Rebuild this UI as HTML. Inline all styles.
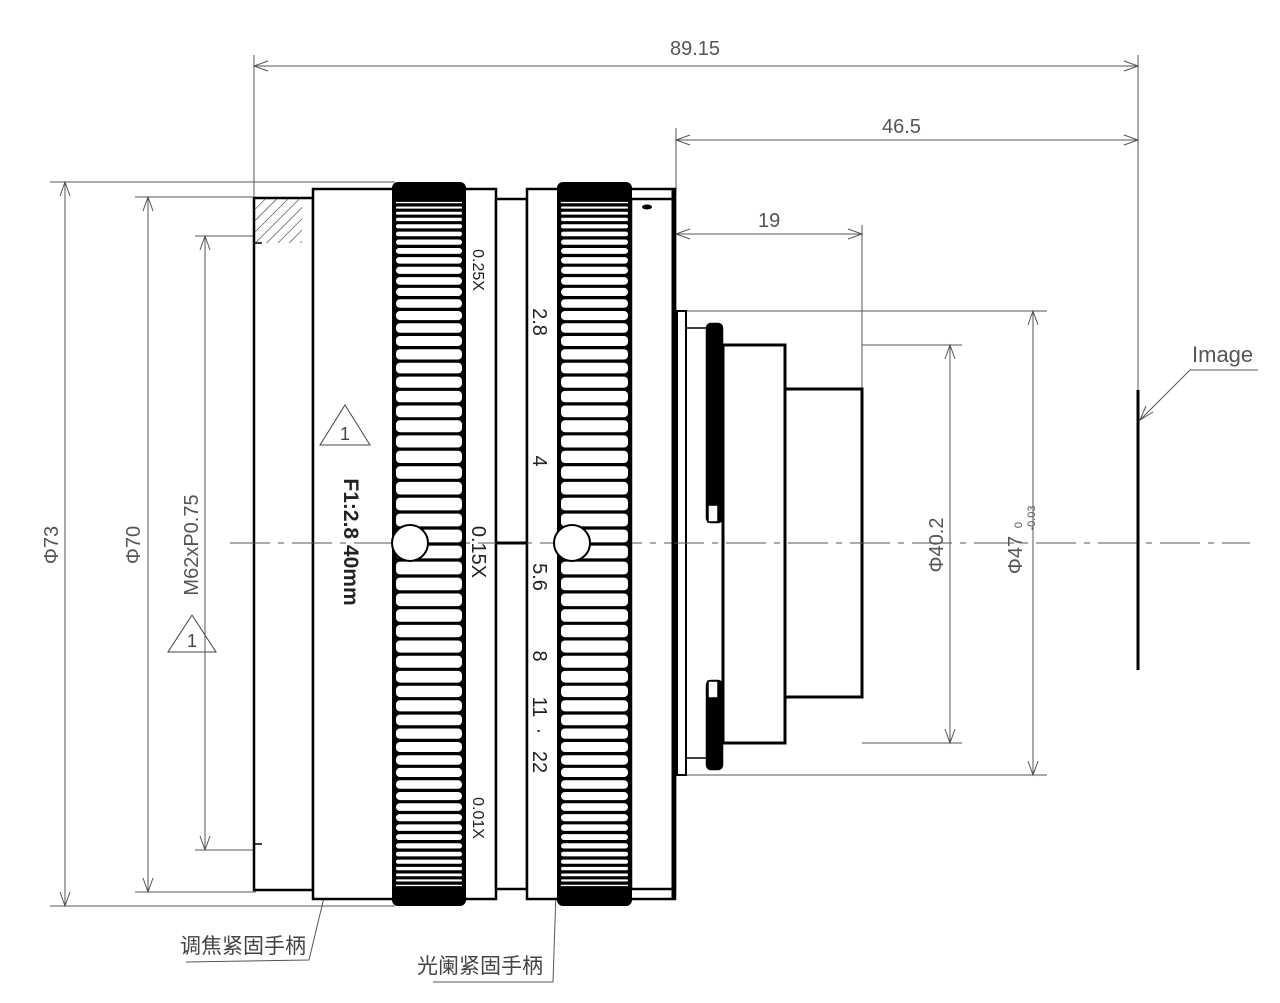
<!DOCTYPE html>
<html><head><meta charset="utf-8"><style>
html,body{margin:0;padding:0;background:#fff}
svg{display:block}
text{font-family:"Liberation Sans","Noto Sans CJK SC",sans-serif}
</style></head><body>
<svg id="s" width="1280" height="1003" viewBox="0 0 1280 1003" xmlns="http://www.w3.org/2000/svg">
<defs>
<pattern id="h" width="8" height="8" patternUnits="userSpaceOnUse" patternTransform="rotate(45)"><line x1="0" y1="0" x2="0" y2="8" stroke="#333" stroke-width="1.2"/></pattern>
</defs>
<g fill="none" stroke="#555" stroke-width="1">
<line x1="254" y1="55" x2="254" y2="196"/>
<line x1="1138" y1="55" x2="1138" y2="420"/>
<line x1="254" y1="66" x2="1138" y2="66"/>
<path d="M268 61 L254 66 L268 71 M1124 61 L1138 66 L1124 71"/>
<line x1="676" y1="128" x2="676" y2="196"/>
<line x1="676" y1="140" x2="1138" y2="140"/>
<path d="M690 135 L676 140 L690 145 M1124 135 L1138 140 L1124 145"/>
<line x1="862" y1="225" x2="862" y2="389"/>
<line x1="676" y1="234" x2="862" y2="234"/>
<path d="M690 229 L676 234 L690 239 M848 229 L862 234 L848 239"/>
<line x1="50" y1="182" x2="395" y2="182"/>
<line x1="50" y1="906" x2="395" y2="906"/>
<line x1="65" y1="182" x2="65" y2="906"/>
<path d="M60 196 L65 182 L70 196 M60 892 L65 906 L70 892"/>
<line x1="135" y1="197" x2="256" y2="197"/>
<line x1="135" y1="892" x2="256" y2="892"/>
<line x1="148" y1="197" x2="148" y2="892"/>
<path d="M143 211 L148 197 L153 211 M143 878 L148 892 L153 878"/>
<line x1="195" y1="236" x2="262" y2="236"/>
<line x1="195" y1="850" x2="262" y2="850"/>
<line x1="205" y1="236" x2="205" y2="850"/>
<path d="M200 250 L205 236 L210 250 M200 836 L205 850 L210 836"/>
<line x1="862" y1="345" x2="962" y2="345"/>
<line x1="862" y1="743" x2="962" y2="743"/>
<line x1="950" y1="345" x2="950" y2="743"/>
<path d="M945 359 L950 345 L955 359 M945 729 L950 743 L955 729"/>
<line x1="686" y1="311" x2="1047" y2="311"/>
<line x1="686" y1="775" x2="1047" y2="775"/>
<line x1="1033" y1="311" x2="1033" y2="775"/>
<path d="M1028 325 L1033 311 L1038 325 M1028 761 L1033 775 L1038 761"/>
<path d="M1140 420 L1190 370 L1258 370"/>
<path d="M1146 406 L1140 420 L1153 412"/>
<path d="M405 560 L309 960 L186 962"/>
<path d="M567 560 L553 982 L433 982"/>
<path d="M400 560 L405 590 M570 560 L568 590"/>
</g>
<g fill="#fff" stroke="#000" stroke-width="2.5">
<path d="M254 198 H313 V890 H254 Z"/>
<rect x="254" y="198" width="48" height="45" fill="url(#h)" stroke="none"/>
<path d="M254 243 H262 M254 844 H262" stroke-width="1.5"/>
<path d="M313 189 H496 V899 H313 Z"/>
<path d="M496 199 H527 V889 H496 Z"/>
<path d="M527 189 H675 V899 H527 Z"/>
<path d="M631 199 H675 V889 H631 Z"/>
<rect x="677" y="311" width="9" height="464" stroke-width="2"/>
<path d="M686 328 H707 M686 758 H707" stroke-width="1.5"/>
<rect x="723" y="345" width="62" height="398" stroke-width="3"/>
<rect x="785" y="389" width="77" height="308" stroke-width="3"/>
<rect x="707" y="324" width="15" height="198" rx="4" fill="#000"/>
<rect x="708" y="505" width="10" height="17" stroke-width="1.5"/>
<rect x="707" y="681" width="15" height="88" rx="4" fill="#000"/>
<rect x="708" y="681" width="10" height="17" stroke-width="1.5"/>
<line x1="686" y1="328" x2="686" y2="758" stroke-width="1.5"/>
</g>
<line x1="230" y1="543" x2="1250" y2="543" stroke="#555" stroke-width="1" stroke-dasharray="40 8 6 8"/>
<line x1="673" y1="190" x2="673" y2="900" stroke="#000" stroke-width="3"/>
<line x1="496" y1="543" x2="527" y2="543" stroke="#000" stroke-width="3"/>
<line x1="1138" y1="390" x2="1138" y2="670" stroke="#000" stroke-width="3"/>
<ellipse cx="647" cy="207" rx="5" ry="2.5" fill="#000"/>
<g id="k1"></g><g id="k2"></g>
<g fill="#fff" stroke="#000" stroke-width="2">
<circle cx="410" cy="543" r="18"/>
<circle cx="572" cy="543" r="18"/>
</g>
<g fill="none" stroke="#444" stroke-width="1">
<path d="M345 405 L370 445 L320 445 Z"/>
<path d="M192 615 L216 652 L168 652 Z"/>
</g>
<text x="340" y="440" font-size="18" fill="#444">1</text>
<text x="187" y="647" font-size="18" fill="#444">1</text>
<g fill="#222">
<text x="670" y="55" font-size="20" fill="#555">89.15</text>
<text x="882" y="133" font-size="20" fill="#555">46.5</text>
<text x="758" y="227" font-size="20" fill="#555">19</text>
<text x="1192" y="362" font-size="22" fill="#555">Image</text>
<text transform="translate(58 545) rotate(-90)" font-size="20" fill="#555" text-anchor="middle">Φ73</text>
<text transform="translate(140 545) rotate(-90)" font-size="20" fill="#555" text-anchor="middle">Φ70</text>
<text transform="translate(198 545) rotate(-90)" font-size="20" fill="#555" text-anchor="middle">M62xP0.75</text>
<text transform="translate(943 545) rotate(-90)" font-size="20" fill="#555" text-anchor="middle">Φ40.2</text>
<text transform="translate(1022 555) rotate(-90)" font-size="20" fill="#555" text-anchor="middle">Φ47</text>
<text transform="translate(1022 525) rotate(-90)" font-size="11" fill="#555" text-anchor="middle">0</text>
<text transform="translate(1035 518) rotate(-90)" font-size="11" fill="#555" text-anchor="middle">-0.03</text>
<text transform="translate(344 542) rotate(90)" font-size="21" font-weight="bold" text-anchor="middle">F1:2.8 40mm</text>
<text transform="translate(473 270) rotate(90)" font-size="16" text-anchor="middle">0.25X</text>
<text transform="translate(472 552) rotate(90)" font-size="20" text-anchor="middle">0.15X</text>
<text transform="translate(473 818) rotate(90)" font-size="16" text-anchor="middle">0.01X</text>
<g font-size="20" text-anchor="middle">
<text transform="translate(533 322) rotate(90)">2.8</text>
<text transform="translate(533 461) rotate(90)">4</text>
<text transform="translate(533 577) rotate(90)">5.6</text>
<text transform="translate(533 656) rotate(90)">8</text>
<text transform="translate(533 707) rotate(90)">11</text>
<text transform="translate(533 762) rotate(90)">22</text>
<text transform="translate(533 731) rotate(90)">·</text>
</g>
<text x="180" y="953" font-size="21" fill="#444">调焦紧固手柄</text>
<text x="417" y="973" font-size="21" fill="#444">光阑紧固手柄</text>
</g>
</svg>
<script>
function knurl(id,x1,x2){
 var g=document.getElementById(id),h="";
 h+='<rect x="'+x1+'" y="182" width="'+(x2-x1)+'" height="724" rx="6" fill="#000"/>';
 var R=362,c=544,n=70;
 var ys=[];
 for(var i=0;i<=n;i++){var t=-Math.PI/2+Math.PI*i/n;ys.push(c+R*Math.sin(t)*0.985);}
 for(var i=0;i<n;i++){var a=ys[i]+1.6,b=ys[i+1]-1.6;if(b-a<1.2)continue;
  h+='<rect x="'+(x1+4)+'" y="'+a.toFixed(1)+'" width="'+(x2-x1-8)+'" height="'+(b-a).toFixed(1)+'" rx="'+Math.min(4,(b-a)/2).toFixed(1)+'" fill="#fff"/>';}
 g.innerHTML=h;
}
knurl("k1",392,466);knurl("k2",557,632);
</script>
</body></html>
